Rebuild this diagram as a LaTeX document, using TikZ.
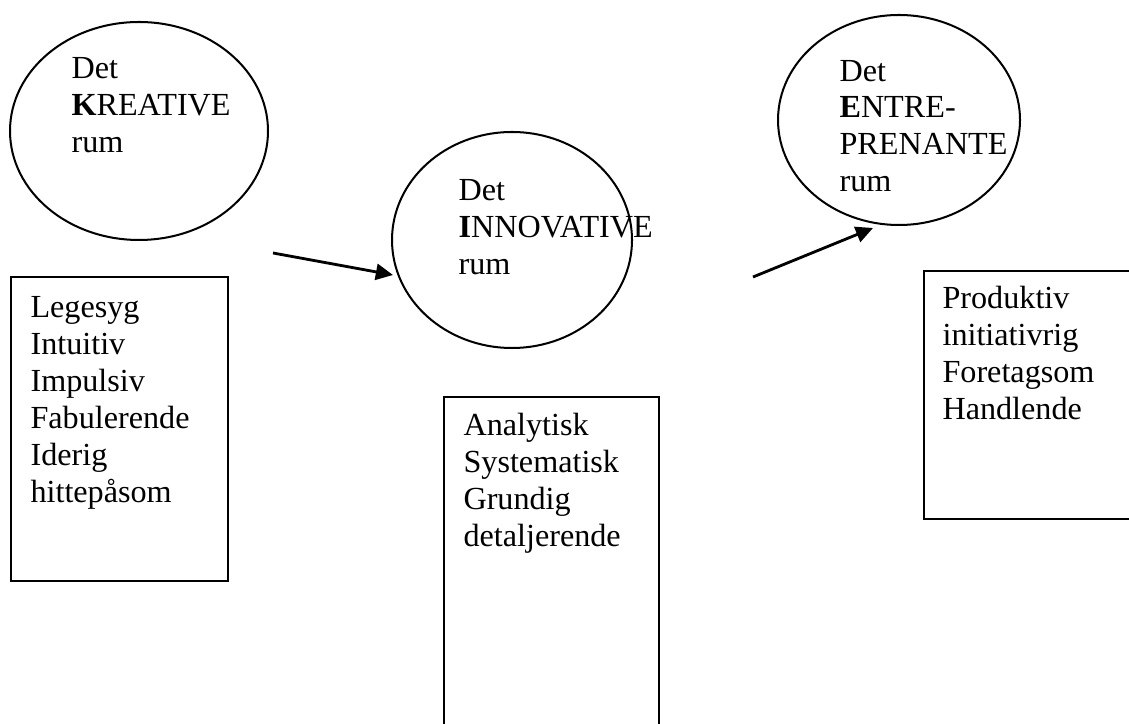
\documentclass[tikz,border=0pt]{standalone}
\usepackage{fontspec}
\setmainfont{Liberation Serif}
\usepackage{tikz}
\usetikzlibrary{positioning, arrows.meta, shapes.geometric}

\newcommand{\px}{0.373pt}

\tikzset{
  oval/.style={draw, ellipse, line width=0.75pt, inner sep=0pt},
  panel/.style={draw, rectangle, line width=0.8pt, anchor=north west, inner sep=0pt},
  words/.style={align=left, anchor=base west, inner sep=0pt,
    font=\fontsize{12}{13.8}\selectfont},
  push/.style={line width=1.05pt, -{Triangle[length=6.4pt, width=6pt]}}
}

\begin{document}
\begin{tikzpicture}[x=\px, y=-\px]
\useasboundingbox (0,0) rectangle (1129,724);
\clip (0,0) rectangle (1129,724);

% The three rooms
\node[oval, minimum width=258*\px, minimum height=218*\px] (krea) at (139,131) {};
\node[oval, minimum width=240*\px, minimum height=216*\px] (inno) at (512,240) {};
\node[oval, minimum width=242*\px, minimum height=210*\px] (entr) at (899,120) {};

% (texts sit on the baseline of their last line)
\node[words] (kreatxt) at (71,153) {Det\\\textbf{K}REATIVE\\rum};
\node[words] (innotxt) at (458,275) {Det\\\textbf{I}NNOVATIVE\\rum};
\node[words] (entrtxt) at (839,192) {Det\\\textbf{E}NTRE-\\PRENANTE\\rum};

% Boxes with the traits
\node[panel, minimum width=217*\px, minimum height=304*\px] (kbox) at (10,276) {};
\node[panel, minimum width=215*\px, minimum height=350*\px] (ibox) at (443,396) {};
\node[panel, minimum width=215*\px, minimum height=248*\px] (ebox) at (923,270) {};

\node[words] (ktraits) at (30,502)
  {Legesyg\\Intuitiv\\Impulsiv\\Fabulerende\\Iderig\\hittepåsom};
\node[words] (itraits) at (463,546)
  {Analytisk\\Systematisk\\Grundig\\detaljerende};
\node[words] (etraits) at (942,419)
  {Produktiv\\initiativrig\\Foretagsom\\Handlende};

% Arrows between the rooms
\coordinate (k2i) at (273,253);
\coordinate (k2itip) at (393,275);
\coordinate (i2e) at (753,277);
\coordinate (i2etip) at (873,228);
\draw[push] (k2i) -- (k2itip);
\draw[push] (i2e) -- (i2etip);
\end{tikzpicture}
\end{document}
